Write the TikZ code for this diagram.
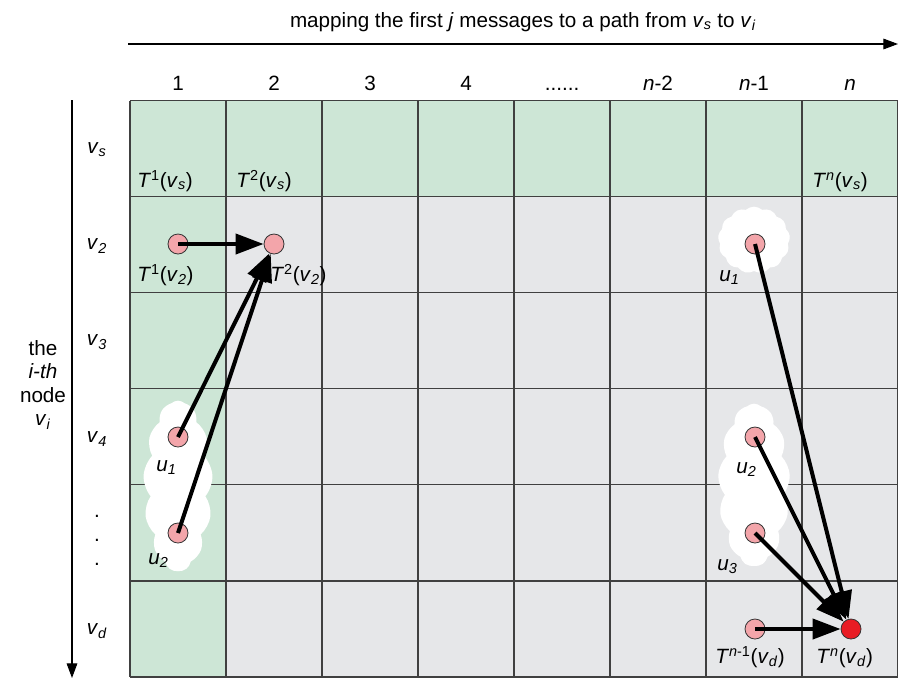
\documentclass[tikz,border=0pt]{standalone}
\usepackage{fontspec}
\setmainfont{Liberation Sans}
\usetikzlibrary{arrows.meta,shapes.symbols}
\definecolor{cellgreen}{RGB}{205,230,214}
\definecolor{cellgray}{RGB}{230,231,233}
\definecolor{dotpink}{RGB}{243,165,170}
\definecolor{dotred}{RGB}{232,28,36}
\definecolor{gridline}{RGB}{64,64,64}
\newcommand{\vsub}[1]{\textit{v}\textsubscript{\textit{#1}}}
\newcommand{\usub}[1]{\textit{u}\textsubscript{\textit{#1}}}
\newcommand{\Tof}[2]{\textit{T}\textsuperscript{#1}(\vsub{#2})}

\begin{document}
\begin{tikzpicture}[
      x=0.75pt, y=-0.75pt,
      font=\fontsize{15.5}{17.5}\selectfont,
      dot/.style={circle, draw=black!80, line width=0.6pt, fill=dotpink, minimum size=15pt, inner sep=0pt},
      lbl/.style={anchor=base west, inner sep=0pt},
      head/.style={anchor=base},
      fog/.style={cloud, cloud puffs=13, cloud puff arc=85, cloud ignores aspect, fill=white, draw=none},
      hop/.style={line width=3pt, -{Triangle[length=21pt,width=15pt]}},
      axis/.style={line width=0.8pt, -{Triangle[length=11pt,width=8pt]}}
    ]
    \useasboundingbox (0,0) rectangle (898,679);

    % cells
    \fill[cellgray] (130,100.5) rectangle (898,677);
    \fill[cellgreen] (130,100.5) rectangle (226,677);
    \fill[cellgreen] (130,100.5) rectangle (898,196.6);
    \foreach \i in {0,...,8}
      \draw[gridline, line width=0.9pt] (130+96*\i,100.5) -- (130+96*\i,677);
    \foreach \j in {0,...,6}
      \draw[gridline, line width=0.9pt] (130,100.5+96.08*\j) -- (898,100.5+96.08*\j);

    % axes
    \node[head] (title) at (523,27) {mapping the first \textit{j} messages to a path from \vsub{s} to \vsub{i}};
    \coordinate (xstart) at (128,44);
    \coordinate (xend) at (898,44);
    \draw[axis] (xstart) -- (xend);
    \coordinate (ystart) at (72,100);
    \coordinate (yend) at (72,678);
    \draw[axis] (ystart) -- (yend);
    \node[align=center] (side) at (43,385) {the\\\textit{i-th}\\node\\\vsub{i}};

    % column and row headers
    \node[head] (c1) at (178,90) {1};
    \node[head] (c2) at (274,90) {2};
    \node[head] (c3) at (370,90) {3};
    \node[head] (c4) at (466,90) {4};
    \node[head] (c5) at (562,90) {......};
    \node[head] (c6) at (658,90) {\textit{n}-2};
    \node[head] (c7) at (754,90) {\textit{n}-1};
    \node[head] (c8) at (850,90) {\textit{n}};
    \node (rs) at (97,150) {\vsub{s}};
    \node (r2) at (97,246) {\vsub{2}};
    \node (r3) at (97,342) {\vsub{3}};
    \node (r4) at (97,439) {\vsub{4}};
    \node[head] (rdot1) at (97,517) {.};
    \node[head] (rdot2) at (97,541) {.};
    \node[head] (rdot3) at (97,565) {.};
    \node (rd) at (97,631) {\vsub{d}};

    % clouds
    \node[fog, minimum width=52pt, minimum height=128pt] (fogA) at (178,486) {};
    \node[fog, minimum width=54pt, minimum height=50pt] (fogB) at (754,240) {};
    \node[fog, minimum width=54pt, minimum height=122pt] (fogC) at (754,485) {};

    % states
    \node[dot] (a1) at (178,244) {};
    \node[dot] (a2) at (274,244) {};
    \node[dot] (a3) at (178,437) {};
    \node[dot] (a4) at (178,533) {};
    \node[dot] (b1) at (755,244) {};
    \node[dot] (b2) at (755,437) {};
    \node[dot] (b3) at (755,533) {};
    \node[dot] (b4) at (755,629) {};
    \node[dot, fill=dotred] (b5) at (851,629) {};

    \draw[hop] (a1.center) -- (a2);
    \draw[hop] (a3.center) -- (a2);
    \draw[hop] (a4.center) -- (a2);
    \draw[hop] (b1.center) -- (b5);
    \draw[hop] (b2.center) -- (b5);
    \draw[hop] (b3.center) -- (b5);
    \draw[hop] (b4.center) -- (b5);

    % labels
    \node[lbl] (t1s) at (137,187) {\Tof{1}{s}};
    \node[lbl] (t2s) at (236,187) {\Tof{2}{s}};
    \node[lbl] (tns) at (812,187) {\Tof{\textit{n}}{s}};
    \node[lbl] (t12) at (137,281) {\Tof{1}{2}};
    \node[lbl] (t22) at (270,281) {\Tof{2}{2}};
    \node[lbl] (ua1) at (156,471) {\usub{1}};
    \node[lbl] (ua2) at (148,564) {\usub{2}};
    \node[lbl] (ub1) at (719,281) {\usub{1}};
    \node[lbl] (ub2) at (736,473) {\usub{2}};
    \node[lbl] (ub3) at (717,570) {\usub{3}};
    \node[lbl] (tnd1) at (715,663) {\Tof{\textit{n}-1}{d}};
    \node[lbl] (tnd) at (816,663) {\Tof{\textit{n}}{d}};
  \end{tikzpicture}
\end{document}
